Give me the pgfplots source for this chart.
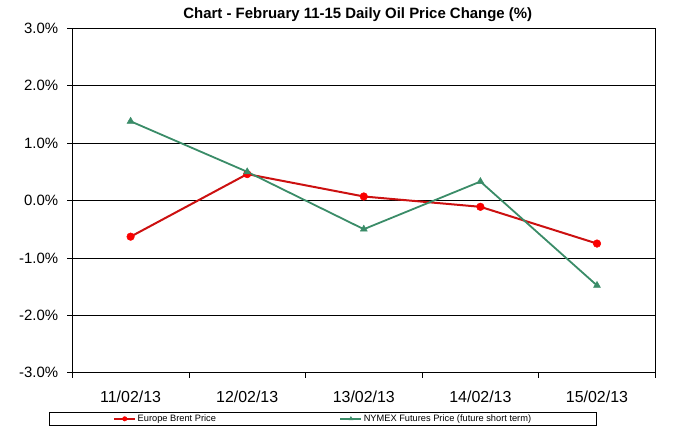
\documentclass[border=0pt]{standalone}
\usepackage{pgfplots}
\pgfplotsset{compat=1.18}
\usepackage{fontspec}
\setmainfont{Liberation Sans}
\definecolor{brentline}{RGB}{204,16,16}
\definecolor{brentmark}{RGB}{250,0,0}
\definecolor{nymex}{RGB}{58,140,104}
\begin{document}
\begin{tikzpicture}
\useasboundingbox (0,0) rectangle (697bp,430bp);
\begin{axis}[
  at={(72.3bp,57.3bp)}, anchor=south west,
  scale only axis, width=583bp, height=344.4bp,
  xmin=-0.5, xmax=4.5, ymin=-3, ymax=3,
  xtick={-0.5,0.5,...,4.5}, x tick label as interval,
  xticklabels={11/02/13,12/02/13,13/02/13,14/02/13,15/02/13},
  ytick={-3,-2,...,3},
  yticklabel={\pgfmathprintnumber[fixed,fixed zerofill,precision=1]{\tick}\%},
  /pgf/number format/assume math mode=true,
  ymajorgrids, grid style={black, line width=0.8bp},
  axis line style={black, line width=0.8bp},
  tick align=outside, major tick length=5bp,
  tick style={black, line width=0.8bp},
  xtick pos=left, ytick pos=left,
  xticklabel style={font=\fontsize{16}{16}\selectfont, anchor=base, inner sep=0pt, yshift=-24.6bp},
  yticklabel style={font=\fontsize{15}{15}\selectfont, anchor=east, inner sep=0pt, xshift=-9bp},
  title={Chart - February 11-15 Daily Oil Price Change (\%)},
  title style={font=\bfseries\fontsize{15}{15}\selectfont, at={(0.5,1)}, anchor=base, yshift=4bp, xshift=-6bp, inner sep=0pt},
  legend columns=2,
  legend style={at={(-0.0394,-0.115)}, anchor=north west, draw=black, line width=0.8bp,
    font=\fontsize{9.3}{9.3}\selectfont, inner xsep=63.5bp, inner ysep=0pt,
    nodes={inner xsep=1.5bp, inner ysep=2bp},
    /tikz/every even column/.append style={column sep=122bp}},
  legend image code/.code={\draw[mark repeat=2,mark phase=2,#1,mark size=2.2bp] plot coordinates {(0bp,0bp) (10.5bp,0bp) (21bp,0bp)};},
]
\addplot[brentline, line width=2bp, mark=*, mark size=3.8bp,
  mark options={solid, line width=0.5bp, fill=brentmark, draw=brentmark}]
  coordinates {(0,-0.63) (1,0.46) (2,0.07) (3,-0.11) (4,-0.75)};
\addlegendentry{Europe Brent Price}
\addplot[nymex, line width=1.8bp, mark=triangle*, mark size=4bp,
  mark options={solid, line width=0.5bp, fill=nymex, draw=nymex}]
  coordinates {(0,1.38) (1,0.50) (2,-0.50) (3,0.33) (4,-1.48)};
\addlegendentry{NYMEX Futures Price (future short term)}
\end{axis}
\end{tikzpicture}
\end{document}
